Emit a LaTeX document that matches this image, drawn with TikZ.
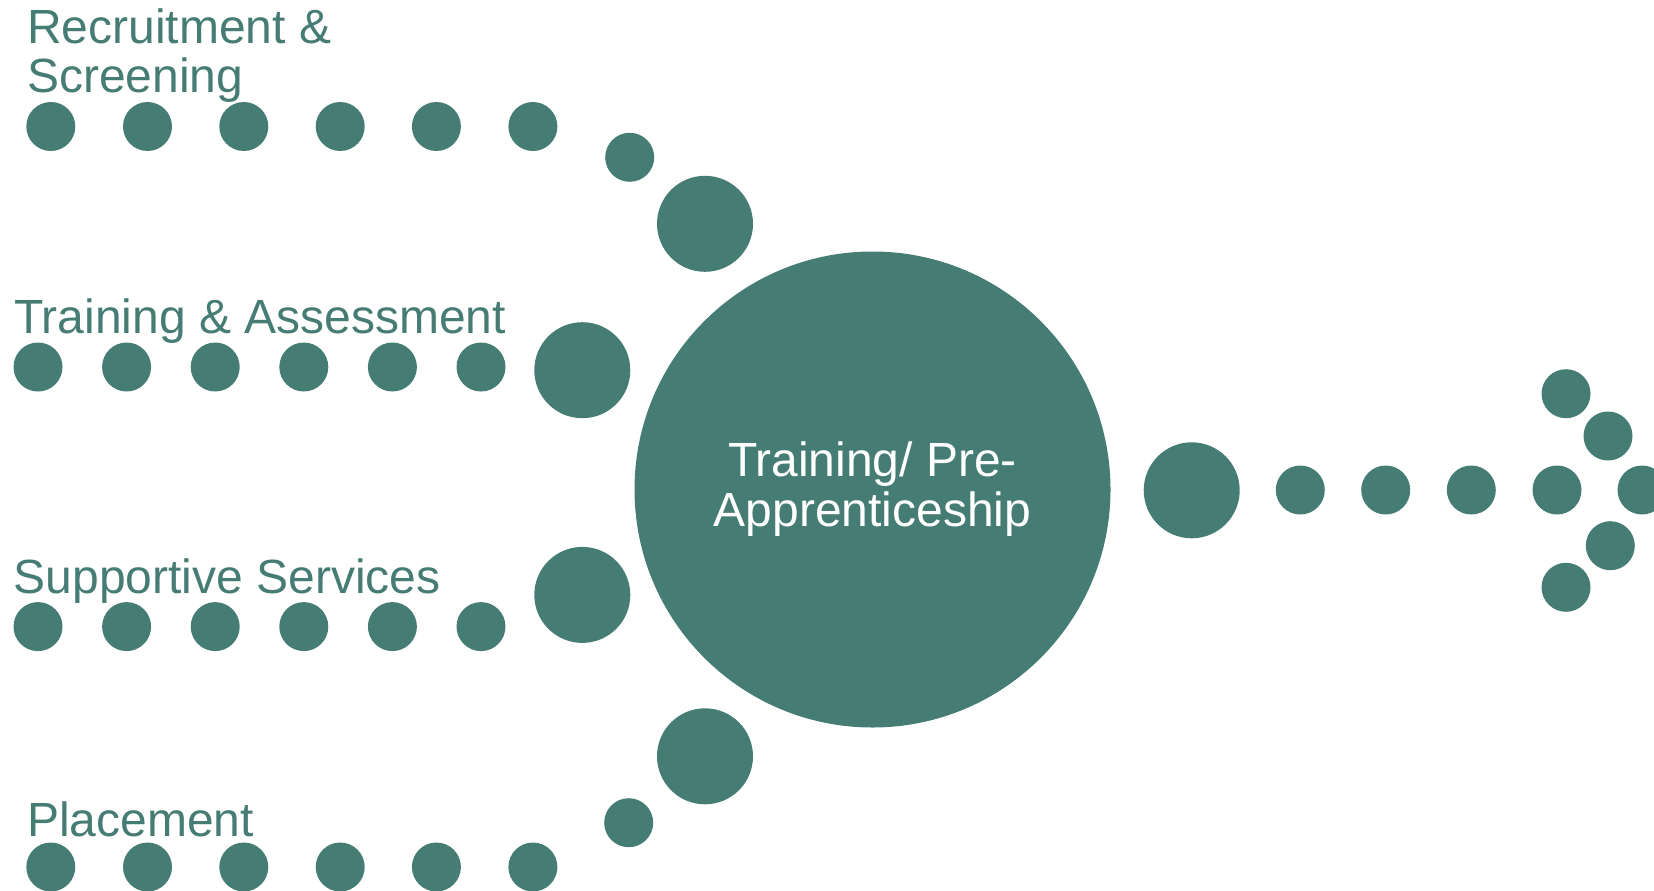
\documentclass[tikz,border=0pt]{standalone}
\usepackage{fontspec}
\setmainfont{Liberation Sans}
\definecolor{teal}{HTML}{457C73}
\tikzset{
  dotsm/.style={circle,fill=teal,draw=none,inner sep=0pt,minimum size=49pt},
  dotbig/.style={circle,fill=teal,draw=none,inner sep=0pt,minimum size=96pt},
  hub/.style={circle,fill=teal,draw=none,inner sep=0pt,minimum size=476pt,
    text=white,align=center,font=\fontsize{48}{50}\selectfont},
  lbl/.style={text=teal,inner sep=0pt,anchor=base west,font=\fontsize{48}{49}\selectfont}
}
\begin{document}
\begin{tikzpicture}[x=1pt,y=-1pt]
\useasboundingbox (0,0) rectangle (1654,891);
% centre
\node[hub] (hub) at (872.5,489.5) {Training/ Pre-\\Apprenticeship};
% top branch
\foreach \x [count=\i] in {50.8,147.5,243.8,340.2,436.4,532.9}
  \node[dotsm] (r\i) at (\x,126.5) {};
\node[dotsm] (r7) at (629.7,157.3) {};
\node[dotbig] (r8) at (705,223.8) {};
\node[lbl] (rlab) at (27,43.3) {Recruitment \&};
\node[lbl] (rlab2) at (27,92.3) {Screening};
% training & assessment
\foreach \x [count=\i] in {38,126.6,215.2,303.8,392.4,481}
  \node[dotsm] (t\i) at (\x,367) {};
\node[dotbig] (t7) at (582.3,370.2) {};
\node[lbl] (tlab) at (14,333.3) {Training \& Assessment};
% supportive services
\foreach \x [count=\i] in {38,126.6,215.2,303.8,392.4,481}
  \node[dotsm] (s\i) at (\x,626.6) {};
\node[dotbig] (s7) at (582.3,594.9) {};
\node[lbl] (slab) at (13.5,593.3) {Supportive Services};
% placement
\foreach \x [count=\i] in {50.8,147.5,243.8,340.2,436.4,532.9}
  \node[dotsm] (p\i) at (\x,867) {};
\node[dotsm] (p7) at (628.7,822.7) {};
\node[dotbig] (p8) at (705,756.3) {};
\node[lbl] (plab) at (27,836) {Placement};
% right arrow
\node[dotbig] (o1) at (1191.7,490.3) {};
\foreach \x [count=\i from 2] in {1300.3,1385.7,1471.3,1557,1642}
  \node[dotsm] (o\i) at (\x,490) {};
\node[dotsm] (a1) at (1566,393.7) {};
\node[dotsm] (a2) at (1608,436) {};
\node[dotsm] (a3) at (1610.3,545.7) {};
\node[dotsm] (a4) at (1566,587.3) {};
\end{tikzpicture}
\end{document}
